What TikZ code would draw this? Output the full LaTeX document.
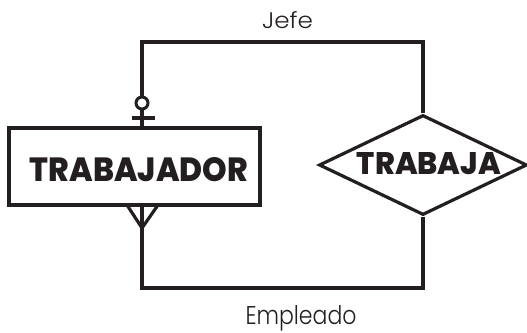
\documentclass[tikz,border=0pt]{standalone}
\usepackage{fontspec}
\setmainfont{Poppins}
\newfontfamily\heavyfont{Poppins}[UprightFont={* ExtraBold}]
\newfontfamily\lightfont{Poppins}[UprightFont={* Light}]
\usetikzlibrary{shapes.geometric}
\definecolor{ink}{HTML}{231F20}
\begin{document}
\begin{tikzpicture}[x=1pt,y=-1pt,
  conn/.style={draw=ink,line width=4pt},
  entbox/.style={draw=ink,line width=3.4pt,rectangle,minimum width=251pt,minimum height=77pt,inner sep=0pt,fill=white},
  relbox/.style={draw=ink,line width=3.2pt,diamond,aspect=2.08,minimum width=208pt,minimum height=100pt,inner sep=0pt,fill=white},
  lbl/.style={text=ink,inner sep=0pt,anchor=base}]
\useasboundingbox (0,0) rectangle (527,332);
\coordinate (tl) at (142,42);
\coordinate (bl) at (142,288.3);
\node[entbox] (trab) at (134.5,166.5) {};
\node[text=ink,inner sep=0pt] (trabt) at (139,169.5) {\resizebox{218pt}{24pt}{\heavyfont TRABAJADOR}};
\node[relbox] (rel) at (423,165) {};
\node[text=ink,inner sep=0pt] (relt) at (429,164) {\resizebox{144pt}{22pt}{\heavyfont TRABAJA}};
% connectors
\draw[conn] (rel.north) |- (tl) -- (tl |- trab.north);
\draw[conn] (rel.south) |- (bl) -- (bl |- trab.south);
% one (optional) end
\coordinate (oc) at (142,103);
\draw[draw=ink,line width=3pt,fill=white] (oc) circle (6);
\coordinate (cbl) at (132,118);
\coordinate (cbr) at (155,118);
\draw[conn,line width=3.4pt] (cbl) -- (cbr);
% crow's foot
\coordinate (cfl) at (127,205);
\coordinate (cfr) at (158,205);
\coordinate (cfa) at (142,228);
\draw[conn,line width=3.2pt] (cfl) -- (cfa) -- (cfr);
% labels
\node[lbl] (jefe) at (287.5,28.3) {\resizebox{51pt}{17pt}{\lightfont Jefe}};
\node[lbl] (empl) at (301,324.5) {\resizebox{111pt}{19pt}{\lightfont Empleado}};
\end{tikzpicture}
\end{document}
